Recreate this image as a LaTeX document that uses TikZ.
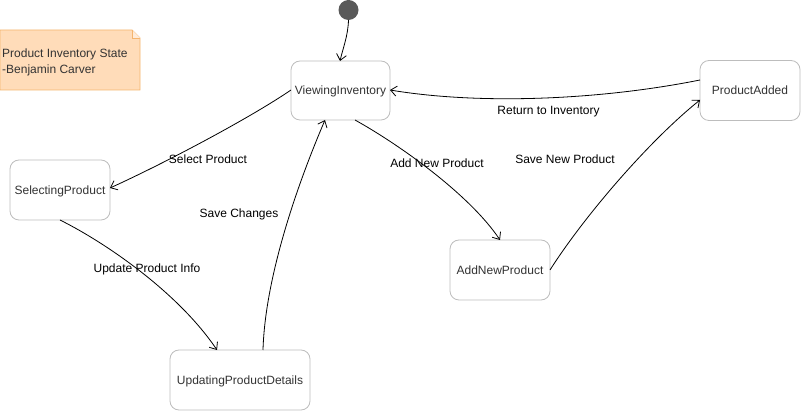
\documentclass[tikz,border=0pt]{standalone}
\usepackage{fontspec}
\setmainfont{Liberation Sans}
\usetikzlibrary{arrows.meta}
\definecolor{nodeborder}{HTML}{BDBDBD}
\definecolor{nodetext}{HTML}{333333}
\definecolor{notefill}{HTML}{FFDCB9}
\definecolor{notefold}{HTML}{FFEBD8}
\definecolor{noteborder}{HTML}{F5B56D}
\definecolor{initfill}{HTML}{595959}
\begin{document}
\begin{tikzpicture}[x=1pt,y=-1pt,
  state/.style={draw=nodeborder, line width=0.8pt, rounded corners=9pt, fill=white,
    minimum width=100pt, minimum height=60pt, inner sep=0pt, text=nodetext,
    text height=11pt, text depth=2.5pt,
    font=\fontsize{12}{14}\selectfont},
  lbl/.style={inner sep=0pt, text=black, text height=11pt, text depth=2.5pt,
    font=\fontsize{12}{14}\selectfont},
  trans/.style={draw=black, line width=0.8pt, -{Straight Barb[length=6pt,width=10pt,line width=0.8pt]}}
]
\useasboundingbox (0,0) rectangle (801,411);

% note
\draw[fill=notefill, draw=noteborder, line width=0.8pt]
  (0,30) -- (132,30) -- (140,38) -- (140,90) -- (0,90) -- cycle;
\draw[fill=notefold, draw=noteborder, line width=0.8pt]
  (132,30) -- (132,38) -- (140,38);
\node[anchor=west, align=left, inner sep=0pt, text=nodetext,
  font=\fontsize{12}{16}\selectfont] (note) at (2,62)
  {Product Inventory State\\-Benjamin Carver};

% initial
\node[circle, fill=initfill, minimum size=20pt, inner sep=0pt] (init) at (348.5,10) {};

% states
\node[state, minimum width=99pt, minimum height=59pt] (vi) at (340.5,90.5) {ViewingInventory};
\node[state] (pa) at (750,90.5) {ProductAdded};
\node[state] (sp) at (60,190) {SelectingProduct};
\node[state] (anp) at (500,270) {AddNewProduct};
\node[state, minimum width=140pt] (upd) at (240,380) {UpdatingProductDetails};

% transitions
\coordinate (i1) at (348.5,20);
\coordinate (i2) at (340,61);
\draw[trans] (i1) .. controls (348,36) and (343,48) .. (i2);

\coordinate (a1) at (291,90);
\coordinate (a2) at (110,188);
\draw[trans] (a1) .. controls (250,118) and (165,163) .. (a2);

\coordinate (b1) at (60,220);
\coordinate (b2) at (217,350);
\draw[trans] (b1) .. controls (110,245) and (180,295) .. (b2);

\coordinate (c1) at (263,350);
\coordinate (c2) at (325,120);
\draw[trans] (c1) .. controls (265,280) and (295,190) .. (c2);

\coordinate (d1) at (355,120);
\coordinate (d2) at (500,240);
\draw[trans] (d1) .. controls (400,145) and (470,195) .. (d2);

\coordinate (e1) at (550,270);
\coordinate (e2) at (700,100);
\draw[trans] (e1) .. controls (585,215) and (650,140) .. (e2);

\coordinate (f1) at (700,80);
\coordinate (f2) at (390,90);
\draw[trans] (f1) .. controls (600,100) and (480,105) .. (f2);

% labels
\node[lbl] (lsel) at (208,159) {Select Product};
\node[lbl] (lsave) at (239,213) {Save Changes};
\node[lbl] (lupd) at (147,268) {Update Product Info};
\node[lbl] (ladd) at (437,163) {Add New Product};
\node[lbl] (lsnp) at (565,159) {Save New Product};
\node[lbl] (lret) at (548.5,110.5) {Return to Inventory};
\end{tikzpicture}
\end{document}
